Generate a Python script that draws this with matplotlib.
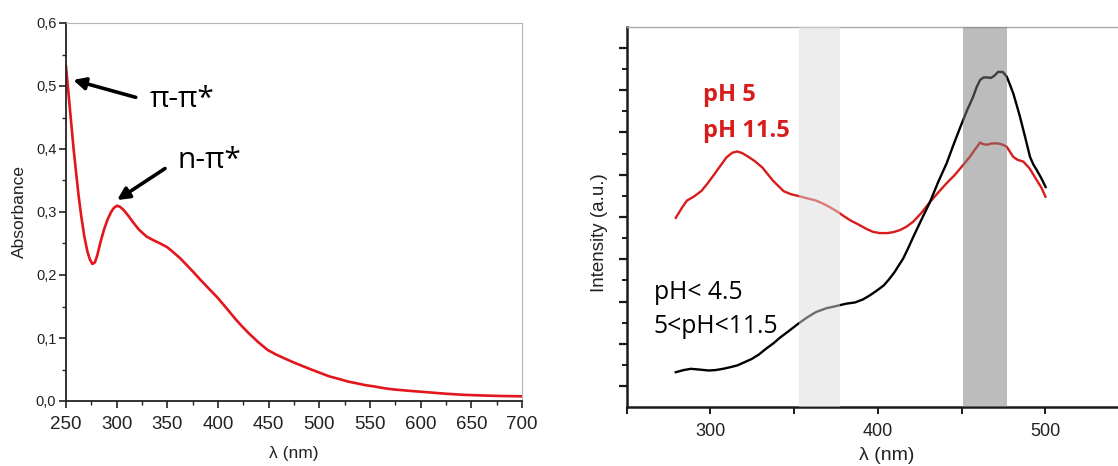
import matplotlib
matplotlib.use("Agg")
import matplotlib.pyplot as plt
from matplotlib.ticker import MultipleLocator, FuncFormatter

# ---------------- data ----------------
# Left: UV-Vis absorbance
abs_wl = [250, 251.5, 253.5, 255.5, 257.5, 260, 262.5, 265, 268, 271, 273.5, 276,
          278.5, 281, 284, 287.5, 291, 294.5, 297.5, 300.5, 303.5, 307, 311.5, 316.5,
          322, 329.5, 336.5, 343, 350, 356, 363, 369, 375.5, 382.3, 390, 399.6, 408,
          417.3, 424, 431.3, 440, 449, 457, 466.5, 475, 484.2, 492, 501.8, 510, 519.4,
          528, 537, 546, 554.6, 563, 572.2, 590, 607.4, 625, 642.6, 660, 677.8, 700]
abs_val = [0.531, 0.505, 0.470, 0.435, 0.400, 0.362, 0.325, 0.294, 0.262, 0.238, 0.225, 0.2175,
           0.220, 0.232, 0.252, 0.272, 0.288, 0.300, 0.307, 0.310, 0.308, 0.303, 0.294, 0.283,
           0.272, 0.261, 0.255, 0.250, 0.244, 0.236, 0.226, 0.216, 0.205, 0.193, 0.180, 0.164, 0.148,
           0.130, 0.118, 0.106, 0.093, 0.081, 0.074, 0.067, 0.061, 0.055, 0.050, 0.044, 0.039, 0.035,
           0.031, 0.028, 0.025, 0.023, 0.0205, 0.0185, 0.016, 0.0138, 0.0115, 0.0098, 0.0088, 0.008, 0.0074]

# Right: emission spectra (arbitrary units)
red_wl = [279.3, 283, 286, 290, 294.7, 298, 301, 305, 309.6, 313, 316, 319, 322.4, 326.5,
          331, 337.3, 343.7, 348, 352.2, 357, 362.9, 367, 371.4, 376, 380, 384, 388.5,
          393, 397, 401, 405.5, 409, 413.1, 417, 421.1, 426, 431, 436, 441, 446, 450,
          454.6, 458, 461, 463, 465.2, 468, 471.6, 474.5, 476.9, 480.8, 483.5, 486.8,
          490.5, 494.8, 497.5, 500]
red_val = [4.48, 4.72, 4.89, 4.98, 5.12, 5.28, 5.44, 5.66, 5.91, 6.02, 6.05, 6.01, 5.93, 5.82,
           5.67, 5.36, 5.11, 5.04, 5.00, 4.95, 4.89, 4.82, 4.73, 4.62, 4.51, 4.41, 4.32,
           4.22, 4.15, 4.12, 4.12, 4.14, 4.19, 4.27, 4.39, 4.60, 4.85, 5.08, 5.30, 5.50, 5.69,
           5.91, 6.10, 6.26, 6.22, 6.21, 6.24, 6.24, 6.21, 6.16, 5.92, 5.85, 5.81,
           5.65, 5.37, 5.20, 4.98]

blk_wl = [279.3, 284, 288.3, 294, 299, 303, 307.5, 312, 316, 320, 324.5, 329, 333, 337.5,
          341.6, 347, 352.2, 357.5, 362.9, 369, 375.7, 381, 386.4, 391, 394.9, 399,
          403.4, 406.5, 409.8, 412.5, 415.1, 418, 421.1, 426, 431, 436, 441, 445.5, 450,
          453.5, 456.7, 459, 461, 463, 465.2, 467.5, 469.5, 471.7, 474.5, 476.9, 478.8,
          480.8, 482.8, 484.8, 487.8, 490.8, 492.8, 494.8, 497.5, 500.1]
blk_val = [0.83, 0.88, 0.91, 0.89, 0.87, 0.88, 0.91, 0.95, 0.99, 1.06, 1.14, 1.25, 1.38, 1.51,
           1.65, 1.81, 1.97, 2.12, 2.25, 2.34, 2.40, 2.45, 2.48, 2.55, 2.64, 2.75,
           2.88, 3.02, 3.19, 3.36, 3.52, 3.76, 4.03, 4.44, 4.85, 5.33, 5.77, 6.25, 6.71,
           7.05, 7.33, 7.58, 7.74, 7.80, 7.80, 7.79, 7.84, 7.93, 7.93, 7.82, 7.63,
           7.42, 7.15, 6.87, 6.40, 5.92, 5.74, 5.61, 5.42, 5.21]

light_band = (353, 377.5)
dark_band = (450.5, 477)

W, H = 1118, 466
fig = plt.figure(figsize=(W / 100, H / 100), dpi=100)

def fx(px):
    return px / W

def fy(py):
    return 1 - py / H

# ---------------- left panel ----------------
axL = fig.add_axes([fx(66), fy(401), fx(522) - fx(66), fy(23) - fy(401)])
axL.plot(abs_wl, abs_val, color="#e3151d", lw=1.9, solid_joinstyle="round")
axL.set_xlim(250, 700)
axL.set_ylim(0, 0.6)
axL.xaxis.set_major_locator(MultipleLocator(50))
axL.xaxis.set_minor_locator(MultipleLocator(25))
axL.yaxis.set_major_locator(MultipleLocator(0.1))
axL.yaxis.set_minor_locator(MultipleLocator(0.05))
axL.yaxis.set_major_formatter(FuncFormatter(lambda v, p: f"{v:.1f}".replace(".", ",")))
for s in ["top", "right"]:
    axL.spines[s].set_color("#b5b5b5")
    axL.spines[s].set_linewidth(0.8)
for s in ["left", "bottom"]:
    axL.spines[s].set_color("#222222")
    axL.spines[s].set_linewidth(1.3)
axL.tick_params(which="major", direction="out", length=5, width=1.2, color="#222222")
axL.tick_params(which="minor", direction="out", length=3, width=1.0, color="#222222")
axL.tick_params(axis="x", labelsize=13.5, pad=6, labelcolor="#222222")
axL.tick_params(axis="y", labelsize=10.5, pad=2, labelcolor="#222222")
for t in axL.get_xticklabels() + axL.get_yticklabels():
    t.set_family("Liberation Sans")
axL.set_xlabel("λ (nm)", fontsize=12.5, family=["Liberation Sans", "DejaVu Sans"],
               color="#222222", labelpad=9)
axL.set_ylabel("Absorbance", fontsize=12.5, family="Liberation Sans", color="#222222",
               labelpad=6)

txtfont = ["Open Sans", "DejaVu Sans"]
axL.text(333, 0.467, "π-π*", fontsize=21.5, family=txtfont, color="black",
         ha="left", va="baseline")
axL.text(360.5, 0.370, "n-π*", fontsize=21.5, family=txtfont, color="black",
         ha="left", va="baseline")
arrow = dict(arrowstyle="-|>", lw=2.6, color="black", mutation_scale=18,
             shrinkA=0, shrinkB=0)
axL.annotate("", xy=(257.1, 0.5095), xytext=(318.8, 0.482), arrowprops=arrow)
axL.annotate("", xy=(300.4, 0.319), xytext=(347.7, 0.369), arrowprops=arrow)

# ---------------- right panel ----------------
x0 = 626.7
scale = 1.675  # px per nm
xmax = 560
axR = fig.add_axes([fx(x0), fy(407.3), (xmax - 250) * scale / W, fy(26.7) - fy(407.3)])
axR.plot(red_wl, red_val, color="#d81c1c", lw=1.7, zorder=2, solid_joinstyle="round")
axR.plot(blk_wl, blk_val, color="black", lw=1.7, zorder=2, solid_joinstyle="round")
axR.axvspan(*light_band, color="#dcdcdc", alpha=0.5, lw=0, zorder=3)
axR.axvspan(*dark_band, color="#7a7a7a", alpha=0.5, lw=0, zorder=3)
axR.set_xlim(250, xmax)
axR.set_ylim(0, 9)
axR.set_xticks([300, 400, 500])
axR.set_xticks([250, 350, 450, 550], minor=True)
axR.set_yticks([0.5 + k for k in range(9)])
axR.set_yticks([1 + k for k in range(8)], minor=True)
axR.set_yticklabels([])
axR.spines["right"].set_visible(False)
axR.spines["top"].set_color("#aaaaaa")
axR.spines["top"].set_linewidth(1.0)
for s in ["left", "bottom"]:
    axR.spines[s].set_color("#1a1a1a")
    axR.spines[s].set_linewidth(1.8)
axR.tick_params(axis="y", which="major", direction="out", length=6, width=1.6, color="#1a1a1a")
axR.tick_params(axis="y", which="minor", direction="out", length=3.5, width=1.4, color="#1a1a1a")
axR.tick_params(axis="x", which="both", direction="out", length=5, width=1.4, color="#1a1a1a")
axR.tick_params(axis="x", labelsize=13, pad=6, labelcolor="#222222")
for t in axR.get_xticklabels():
    t.set_family("Liberation Sans")
axR.set_xlabel("λ (nm)", fontsize=14, family=["Liberation Sans", "DejaVu Sans"],
               color="#222222", labelpad=5)
axR.set_ylabel("Intensity (a.u.)", fontsize=13.5, family="Liberation Sans",
               color="#222222")
axR.yaxis.set_label_coords(-0.036, 0.46)

axR.text(295.5, 7.24, "pH 5", fontsize=17, family=txtfont, weight="bold",
         color="#d81c1c", ha="left", va="baseline")
axR.text(295.5, 6.40, "pH 11.5", fontsize=17, family=txtfont, weight="bold",
         color="#d81c1c", ha="left", va="baseline")
axR.text(266, 2.55, "pH< 4.5", fontsize=17.8, family=txtfont, color="black",
         ha="left", va="baseline")
axR.text(266, 1.75, "5<pH<11.5", fontsize=17.8, family=txtfont, color="black",
         ha="left", va="baseline")

fig.savefig("out.png", dpi=100, facecolor="white")
